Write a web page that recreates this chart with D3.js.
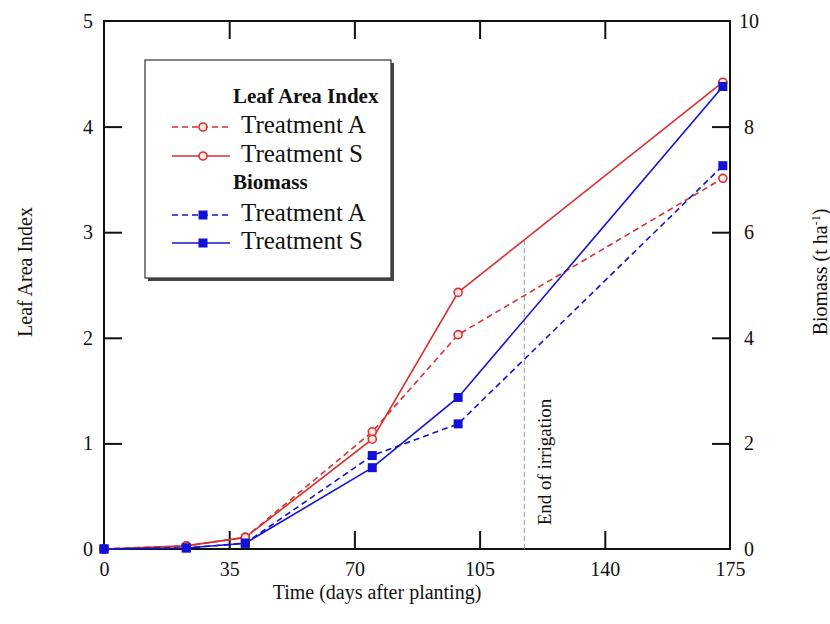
<!DOCTYPE html>
<html>
<head>
<meta charset="utf-8">
<script src="https://cdn.jsdelivr.net/npm/d3@7"></script>
<style>
  body { margin: 0; background: #fff; }
  svg { display: block; }
  text { font-family: "Liberation Serif", "Times New Roman", serif; fill: #111; }
  .tick text { font-size: 20px; font-family: "Liberation Serif", "Times New Roman", serif; }
  .tick line { stroke: #111; stroke-width: 2; }
</style>
</head>
<body>
<div id="chart"></div>
<script>
// days after planting for each sampling
let days = [0, 23, 39.5, 75, 99, 173]
// leaf area index (left axis)
let laiA = [0, 0.03, 0.11, 1.11, 2.03, 3.51]
let laiS = [0, 0.03, 0.11, 1.04, 2.43, 4.42]
// biomass t/ha (right axis)
let bioA = [0, 0.02, 0.11, 1.77, 2.37, 7.26]
let bioS = [0, 0.02, 0.11, 1.54, 2.87, 8.76]

let xTicks = [0, 35, 70, 105, 140, 175]
let laiTicks = [0, 1, 2, 3, 4, 5]
let bioTicks = [0, 2, 4, 6, 8, 10]
let irrigationEnd = 117.5

let width = 830
let height = 624
let plotLeft = 104, plotRight = 730, plotTop = 21, plotBottom = 549

let red = "#d8302f"
let blue = "#1212d6"

let svg = d3.select("#chart")
  .append("svg")
  .attr("width", width)
  .attr("height", height)

let xScale = d3.scaleLinear().domain([0, 175]).range([plotLeft, plotRight])
let yLai = d3.scaleLinear().domain([0, 5]).range([plotBottom, plotTop])
let yBio = d3.scaleLinear().domain([0, 10]).range([plotBottom, plotTop])

// axes with inward ticks
let tickLen = 18
let fmt = d3.format("d")

let xAxis = d3.axisBottom(xScale).tickValues(xTicks).tickFormat(fmt).tickSizeInner(-tickLen).tickSizeOuter(0).tickPadding(13)
let xAxisTop = d3.axisTop(xScale).tickValues(xTicks.slice(1, -1)).tickSizeInner(-tickLen).tickSizeOuter(0).tickFormat("")
let yAxis = d3.axisLeft(yLai).tickValues(laiTicks).tickFormat(fmt).tickSizeInner(-tickLen).tickSizeOuter(0).tickPadding(11)
let yAxisRight = d3.axisRight(yBio).tickValues(bioTicks).tickFormat(fmt).tickSizeInner(-tickLen).tickSizeOuter(0).tickPadding(19)

svg.append("g").attr("class", "xAxis")
  .attr("transform", `translate(0, ${plotBottom})`)
  .call(xAxis)
svg.append("g").attr("class", "xAxisTop")
  .attr("transform", `translate(0, ${plotTop})`)
  .call(xAxisTop)
svg.append("g").attr("class", "yAxis")
  .attr("transform", `translate(${plotLeft}, 0)`)
  .call(yAxis)
svg.append("g").attr("class", "yAxisRight")
  .attr("transform", `translate(${plotRight}, 0)`)
  .call(yAxisRight)

svg.selectAll(".domain").remove()
// end ticks are hidden by the frame anyway
svg.select(".yAxis").selectAll(".tick").filter(d => d === 0 || d === 5).select("line").remove()
svg.select(".yAxisRight").selectAll(".tick").filter(d => d === 0 || d === 10).select("line").remove()
svg.select(".xAxis").selectAll(".tick").filter(d => d === 0 || d === 175).select("line").remove()
svg.select(".yAxisRight").selectAll(".tick text").attr("text-anchor", "middle")

svg.append("rect")
  .attr("x", plotLeft).attr("y", plotTop)
  .attr("width", plotRight - plotLeft).attr("height", plotBottom - plotTop)
  .attr("fill", "none")
  .attr("stroke", "#111")
  .attr("stroke-width", 2)

// axis titles
svg.append("text")
  .attr("transform", "translate(377, 599)")
  .attr("text-anchor", "middle")
  .style("font-size", "20px")
  .text("Time (days after planting)")

svg.append("text")
  .attr("transform", "translate(32, 272) rotate(-90)")
  .attr("text-anchor", "middle")
  .style("font-size", "20px")
  .text("Leaf Area Index")

let bioTitle = svg.append("text")
  .attr("transform", "translate(827, 272) rotate(-90)")
  .attr("text-anchor", "middle")
  .style("font-size", "20px")
bioTitle.append("tspan").text("Biomass (t ha")
bioTitle.append("tspan").attr("dy", -7).style("font-size", "12px").text("-1")
bioTitle.append("tspan").attr("dy", 7).text(")")

// end of irrigation marker, reaching up to the LAI S line
let laiAtEnd = d3.scaleLinear().domain(days).range(laiS)(irrigationEnd)
svg.append("line")
  .attr("x1", xScale(irrigationEnd)).attr("x2", xScale(irrigationEnd))
  .attr("y1", yLai(0)).attr("y2", yLai(laiAtEnd))
  .attr("stroke", "#9a9a9a")
  .attr("stroke-width", 1)
  .attr("stroke-dasharray", "5,3")

svg.append("text")
  .attr("transform", `translate(${xScale(irrigationEnd) + 27}, 462) rotate(-90)`)
  .attr("text-anchor", "middle")
  .style("font-size", "19px")
  .text("End of irrigation")

// series
let series = [
  { values: laiA, scale: yLai, color: red, dash: "6,4", marker: "circle" },
  { values: laiS, scale: yLai, color: red, dash: null, marker: "circle" },
  { values: bioA, scale: yBio, color: blue, dash: "6,4", marker: "square" },
  { values: bioS, scale: yBio, color: blue, dash: null, marker: "square" }
]

function drawMarker(g, kind, color, x, y) {
  if (kind === "circle") {
    g.append("circle")
      .attr("cx", x).attr("cy", y).attr("r", 4)
      .attr("fill", "#ffe6e6")
      .attr("stroke", color)
      .attr("stroke-width", 1.6)
  } else {
    g.append("rect")
      .attr("x", x - 4.5).attr("y", y - 4.5)
      .attr("width", 9).attr("height", 9)
      .attr("fill", color)
  }
}

series.forEach(function(s) {
  let line = d3.line()
    .x((d, i) => xScale(days[i]))
    .y(d => s.scale(d))
  svg.append("path")
    .datum(s.values)
    .attr("d", line)
    .attr("fill", "none")
    .attr("stroke", s.color)
    .attr("stroke-width", 1.6)
    .attr("stroke-dasharray", s.dash)
})

series.forEach(function(s) {
  let g = svg.append("g")
  s.values.forEach(function(v, i) {
    drawMarker(g, s.marker, s.color, xScale(days[i]), s.scale(v))
  })
})

// legend
let legend = svg.append("g")
legend.append("rect")
  .attr("x", 148).attr("y", 63).attr("width", 246).attr("height", 218)
  .attr("fill", "#444")
legend.append("rect")
  .attr("x", 145).attr("y", 60).attr("width", 246).attr("height", 218)
  .attr("fill", "#fff")
  .attr("stroke", "#333")
  .attr("stroke-width", 1.2)

let legendRows = [
  { type: "head", label: "Leaf Area Index", y: 103 },
  { type: "item", label: "Treatment A", y: 133, s: series[0] },
  { type: "item", label: "Treatment S", y: 162, s: series[1] },
  { type: "head", label: "Biomass", y: 189 },
  { type: "item", label: "Treatment A", y: 221, s: series[2] },
  { type: "item", label: "Treatment S", y: 249, s: series[3] }
]

legendRows.forEach(function(r) {
  if (r.type === "head") {
    legend.append("text")
      .attr("x", 233).attr("y", r.y)
      .style("font-size", "21px")
      .style("font-weight", "bold")
      .text(r.label)
  } else {
    let ly = r.y - 6
    legend.append("line")
      .attr("x1", 172).attr("x2", 230)
      .attr("y1", ly).attr("y2", ly)
      .attr("stroke", r.s.color)
      .attr("stroke-width", 1.6)
      .attr("stroke-dasharray", r.s.dash)
    drawMarker(legend, r.s.marker, r.s.color, 203, ly)
    legend.append("text")
      .attr("x", 241).attr("y", r.y)
      .style("font-size", "25px")
      .text(r.label)
  }
})
</script>
</body>
</html>
